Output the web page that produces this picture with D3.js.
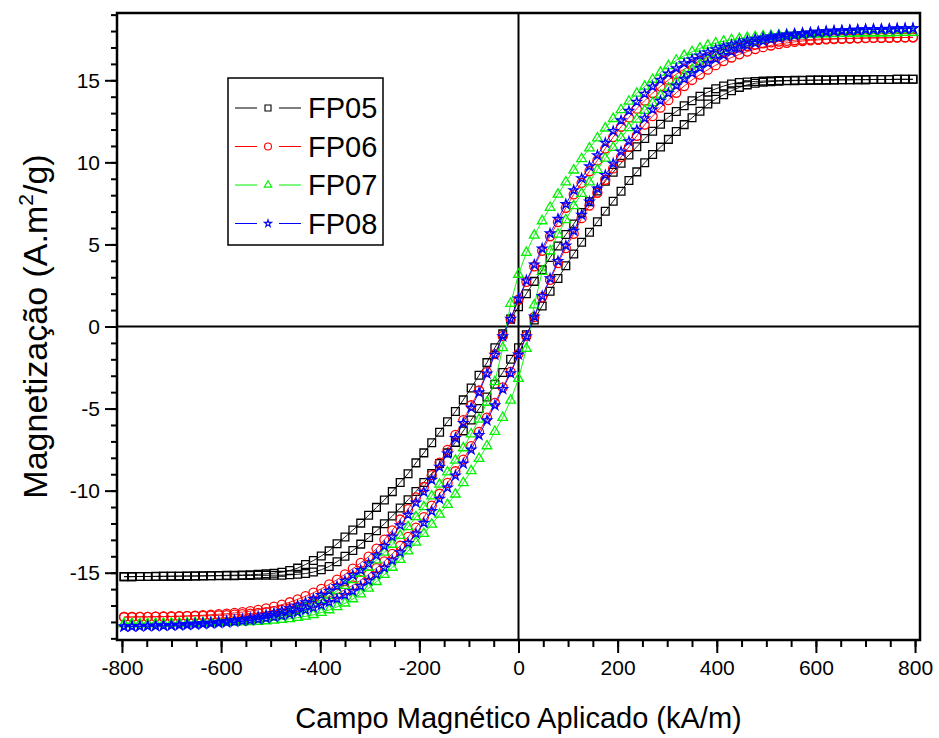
<!DOCTYPE html>
<html>
<head>
<meta charset="utf-8">
<script src="https://cdn.jsdelivr.net/npm/d3@7"></script>
<style>
  body { margin: 0; background: #fff; }
  svg { font-family: "Liberation Sans", Arial, sans-serif; }
</style>
</head>
<body>
<svg id="chart" width="939" height="738"></svg>
<script>
// applied field (kA/m), one point every 200 Oe
var fieldKAm = [-795.8,-779.9,-764.0,-748.1,-732.1,-716.2,-700.3,-684.4,-668.5,-652.5,-636.6,-620.7,-604.8,-588.9,-573.0,-557.0,-541.1,-525.2,-509.3,-493.4,-477.5,-461.5,-445.6,-429.7,-413.8,-397.9,-382.0,-366.1,-350.1,-334.2,-318.3,-302.4,-286.5,-270.6,-254.6,-238.7,-222.8,-206.9,-191.0,-175.1,-159.2,-143.2,-127.3,-111.4,-95.5,-79.6,-63.7,-47.7,-31.8,-15.9,0,15.9,31.8,47.7,63.7,79.6,95.5,111.4,127.3,143.2,159.2,175.1,191.0,206.9,222.8,238.7,254.6,270.6,286.5,302.4,318.3,334.2,350.1,366.1,382.0,397.9,413.8,429.7,445.6,461.5,477.5,493.4,509.3,525.2,541.1,557.0,573.0,588.9,604.8,620.7,636.6,652.5,668.5,684.4,700.3,716.2,732.1,748.1,764.0,779.9,795.8];

// magnetization (A.m2/g), listed in the same order as fieldKAm
// "down" = branch measured from +H to -H, "up" = branch from -H to +H
var fp05Down = [-15.24,-15.24,-15.23,-15.23,-15.22,-15.22,-15.21,-15.21,-15.2,-15.2,-15.19,-15.18,-15.17,-15.16,-15.15,-15.14,-15.12,-15.1,-15.07,-15.03,-14.97,-14.87,-14.72,-14.5,-14.26,-13.98,-13.67,-13.24,-12.83,-12.4,-11.98,-11.5,-11.02,-10.57,-10.06,-9.5,-8.97,-8.31,-7.7,-7.08,-6.44,-5.8,-5.18,-4.47,-3.75,-2.97,-2.2,-1.3,-0.45,0.45,
  1.2,2.0,2.75,3.45,4.2,4.9,5.6,6.25,6.95,7.6,8.25,8.85,9.4,9.95,10.45,10.95,11.45,11.9,12.32,12.75,13.1,13.45,13.75,14.03,14.28,14.48,14.65,14.78,14.86,14.9,14.93,14.95,14.97,14.98,14.99,15.0,15.0,15.01,15.01,15.02,15.02,15.03,15.03,15.04,15.04,15.05,15.05,15.05,15.06,15.06,15.06];
var fp05Up = [-15.24,-15.24,-15.23,-15.23,-15.23,-15.22,-15.22,-15.21,-15.21,-15.2,-15.2,-15.19,-15.19,-15.18,-15.18,-15.17,-15.17,-15.16,-15.16,-15.15,-15.15,-15.13,-15.1,-15.05,-14.96,-14.82,-14.62,-14.33,-14.0,-13.65,-13.26,-12.86,-12.45,-12.02,-11.55,-11.06,-10.56,-10.05,-9.5,-8.95,-8.35,-7.7,-7.06,-6.36,-5.7,-5.0,-4.3,-3.52,-2.8,-2.0,
  -1.3,-0.5,0.4,1.25,2.15,2.92,3.7,4.42,5.13,5.74,6.38,7.02,7.63,8.24,8.9,9.42,9.98,10.48,10.93,11.4,11.88,12.3,12.72,13.12,13.55,13.85,14.12,14.36,14.57,14.72,14.82,14.88,14.92,14.95,14.97,14.98,14.99,15.0,15.01,15.01,15.02,15.03,15.03,15.04,15.04,15.05,15.05,15.05,15.06,15.06,15.06];

var fp06Down = [-17.7,-17.7,-17.69,-17.69,-17.68,-17.67,-17.66,-17.65,-17.63,-17.61,-17.59,-17.56,-17.53,-17.5,-17.45,-17.4,-17.34,-17.26,-17.17,-17.07,-16.95,-16.8,-16.62,-16.43,-16.22,-15.98,-15.71,-15.42,-15.1,-14.75,-14.4,-14.02,-13.53,-12.98,-12.42,-11.76,-11.13,-10.41,-9.78,-9.06,-8.29,-7.52,-6.6,-5.7,-4.8,-3.9,-2.78,-1.68,-0.58,0.46,
  1.64,2.72,3.66,4.61,5.5,6.36,7.23,8.05,8.75,9.46,10.12,10.84,11.54,12.17,12.74,13.27,13.76,14.22,14.63,15.02,15.37,15.68,15.95,16.19,16.4,16.58,16.74,16.87,16.99,17.09,17.18,17.25,17.31,17.36,17.4,17.44,17.47,17.49,17.51,17.53,17.54,17.55,17.56,17.57,17.58,17.59,17.59,17.6,17.61,17.61,17.62];
var fp06Up = [-17.7,-17.7,-17.69,-17.69,-17.68,-17.68,-17.67,-17.66,-17.65,-17.64,-17.63,-17.62,-17.6,-17.58,-17.56,-17.53,-17.49,-17.45,-17.4,-17.34,-17.27,-17.18,-17.08,-16.96,-16.83,-16.67,-16.49,-16.28,-16.04,-15.77,-15.46,-15.11,-14.72,-14.31,-13.85,-13.36,-12.82,-12.25,-11.62,-10.92,-10.19,-9.53,-8.82,-8.11,-7.29,-6.42,-5.55,-4.66,-3.71,-2.77,
  -1.67,-0.58,0.58,1.79,2.84,3.86,4.78,5.65,6.6,7.37,8.15,8.94,9.63,10.33,10.94,11.62,12.3,12.82,13.34,13.79,14.24,14.65,15.02,15.35,15.65,15.92,16.17,16.39,16.58,16.75,16.9,17.02,17.12,17.21,17.28,17.34,17.39,17.43,17.46,17.49,17.51,17.53,17.54,17.56,17.57,17.58,17.59,17.59,17.6,17.61,17.62];

var fp07Down = [-18.12,-18.12,-18.11,-18.11,-18.1,-18.1,-18.09,-18.08,-18.07,-18.06,-18.05,-18.04,-18.02,-18.0,-17.97,-17.94,-17.9,-17.85,-17.78,-17.7,-17.6,-17.45,-17.27,-17.09,-16.89,-16.66,-16.4,-16.1,-15.78,-15.43,-15.05,-14.68,-14.23,-13.76,-13.28,-12.74,-12.21,-11.6,-10.99,-10.33,-9.62,-8.87,-8.16,-7.4,-6.55,-5.66,-4.63,-3.37,-1.3,1.4,
  3.17,4.5,5.55,6.43,7.25,8.05,8.8,9.52,10.22,10.87,11.48,12.08,12.66,13.2,13.72,14.2,14.63,15.05,15.48,15.88,16.22,16.5,16.74,16.95,17.13,17.27,17.38,17.47,17.54,17.6,17.65,17.69,17.72,17.75,17.77,17.79,17.81,17.82,17.83,17.84,17.85,17.86,17.87,17.87,17.88,17.88,17.89,17.89,17.9,17.9,17.9];
var fp07Up = [-18.12,-18.12,-18.12,-18.11,-18.11,-18.1,-18.1,-18.09,-18.09,-18.08,-18.07,-18.06,-18.05,-18.04,-18.03,-18.01,-17.99,-17.97,-17.94,-17.9,-17.86,-17.81,-17.74,-17.66,-17.56,-17.43,-17.27,-17.08,-16.86,-16.6,-16.3,-15.95,-15.55,-15.12,-14.68,-14.2,-13.68,-13.15,-12.62,-12.05,-11.45,-10.85,-10.22,-9.52,-8.8,-8.05,-7.28,-6.4,-5.55,-4.5,
  -3.18,-1.35,1.3,3.35,4.6,5.62,6.5,7.35,8.1,8.8,9.55,10.25,10.9,11.5,12.1,12.62,13.15,13.62,14.08,14.52,14.92,15.3,15.65,15.97,16.27,16.53,16.76,16.96,17.13,17.27,17.39,17.49,17.57,17.63,17.68,17.72,17.75,17.78,17.8,17.82,17.83,17.84,17.85,17.86,17.87,17.87,17.88,17.88,17.89,17.9,17.9];

var fp08Down = [-18.28,-18.27,-18.26,-18.24,-18.23,-18.21,-18.19,-18.17,-18.14,-18.11,-18.08,-18.04,-18.0,-17.95,-17.89,-17.83,-17.76,-17.67,-17.57,-17.46,-17.33,-17.18,-17.0,-16.81,-16.6,-16.37,-16.11,-15.82,-15.5,-15.15,-14.85,-14.45,-13.95,-13.38,-12.8,-12.12,-11.47,-10.73,-10.08,-9.34,-8.55,-7.75,-6.8,-5.88,-4.95,-4.02,-2.87,-1.73,-0.6,0.47,
  1.69,2.8,3.77,4.75,5.67,6.56,7.45,8.3,9.02,9.75,10.43,11.18,11.9,12.55,13.13,13.68,14.17,14.62,15.02,15.4,15.73,16.03,16.28,16.5,16.7,16.88,17.03,17.17,17.3,17.42,17.52,17.6,17.67,17.73,17.79,17.84,17.88,17.92,17.96,17.99,18.02,18.04,18.06,18.08,18.1,18.11,18.12,18.13,18.14,18.15,18.16];
var fp08Up = [-18.28,-18.28,-18.27,-18.26,-18.25,-18.24,-18.23,-18.21,-18.19,-18.17,-18.14,-18.11,-18.08,-18.04,-18.0,-17.95,-17.9,-17.84,-17.78,-17.7,-17.62,-17.52,-17.4,-17.27,-17.13,-16.98,-16.8,-16.6,-16.37,-16.12,-15.82,-15.48,-15.1,-14.7,-14.25,-13.76,-13.2,-12.62,-11.97,-11.25,-10.5,-9.82,-9.08,-8.36,-7.5,-6.62,-5.72,-4.8,-3.82,-2.85,
  -1.72,-0.6,0.6,1.85,2.93,3.98,4.93,5.82,6.8,7.6,8.4,9.22,9.93,10.65,11.28,11.98,12.68,13.22,13.75,14.22,14.68,15.08,15.43,15.75,16.04,16.3,16.53,16.74,16.93,17.11,17.26,17.38,17.49,17.58,17.67,17.74,17.8,17.85,17.9,17.94,17.98,18.01,18.03,18.06,18.08,18.1,18.11,18.12,18.14,18.15,18.16];

var seriesNames = ["FP05", "FP06", "FP07", "FP08"];
var xTickLabels = [-800, -600, -400, -200, 0, 200, 400, 600, 800];
var yTickLabels = [-15, -10, -5, 0, 5, 10, 15];

var styles = [
  {color: "#000000", symbol: d3.symbolSquare, size: 60},
  {color: "#ff0000", symbol: d3.symbolCircle, size: 64},
  {color: "#00f000", symbol: d3.symbolTriangle, size: 40},
  {color: "#0000ff", symbol: d3.symbolStar, size: 26}
];
var branches = [[fp05Down, fp05Up], [fp06Down, fp06Up], [fp07Down, fp07Up], [fp08Down, fp08Up]];

var svg = d3.select("#chart");
var plot = {left: 117, top: 13, right: 920, bottom: 640};

var x = d3.scaleLinear().domain([-810, 810]).range([plot.left, plot.right]);
var y = d3.scaleLinear().domain([-19.1, 19.1]).range([plot.bottom, plot.top]);
var plain = function(d) { return String(d); };   // keep the ascii hyphen as minus

// minor ticks first, then labelled major ticks
svg.append("g")
  .attr("transform", "translate(0," + plot.bottom + ")")
  .call(d3.axisBottom(x).tickValues(d3.range(-800, 801, 50)).tickSize(7).tickFormat(""))
  .call(function(g) { g.select(".domain").remove(); });
svg.append("g")
  .attr("class", "axis axis--x")
  .attr("transform", "translate(0," + plot.bottom + ")")
  .call(d3.axisBottom(x).tickValues(xTickLabels).tickSize(13).tickPadding(7).tickFormat(plain))
  .call(function(g) { g.select(".domain").remove(); });

svg.append("g")
  .attr("transform", "translate(" + plot.left + ",0)")
  .call(d3.axisLeft(y).tickValues(d3.range(-19, 20, 1)).tickSize(6).tickFormat(""))
  .call(function(g) { g.select(".domain").remove(); });
svg.append("g")
  .attr("class", "axis axis--y")
  .attr("transform", "translate(" + plot.left + ",0)")
  .call(d3.axisLeft(y).tickValues(yTickLabels).tickSize(12).tickPadding(5).tickFormat(plain))
  .call(function(g) { g.select(".domain").remove(); });

svg.selectAll(".tick line").attr("stroke", "#000").attr("stroke-width", 2);
svg.selectAll(".axis text").attr("fill", "#000").style("font-size", "21px")
  .style("font-family", "'Liberation Sans', Arial, sans-serif");

// zero lines
svg.append("line")
  .attr("x1", x(0)).attr("x2", x(0)).attr("y1", plot.top).attr("y2", plot.bottom)
  .attr("stroke", "#000").attr("stroke-width", 2);
svg.append("line")
  .attr("x1", plot.left).attr("x2", plot.right).attr("y1", y(0)).attr("y2", y(0))
  .attr("stroke", "#000").attr("stroke-width", 2);

// the loops
var line = d3.line().x(function(d) { return x(d[0]); }).y(function(d) { return y(d[1]); });

seriesNames.forEach(function(name, i) {
  var down = fieldKAm.map(function(h, k) { return [h, branches[i][0][k]]; }).reverse();
  var up = fieldKAm.map(function(h, k) { return [h, branches[i][1][k]]; });
  var pts = down.concat(up);
  var st = styles[i];
  var g = svg.append("g").attr("class", "series");

  g.append("path")
    .datum(pts)
    .attr("d", line)
    .attr("fill", "none")
    .attr("stroke", st.color)
    .attr("stroke-width", 0.9);

  g.selectAll("path.mark")
    .data(pts)
    .enter().append("path")
    .attr("class", "mark")
    .attr("d", d3.symbol().type(st.symbol).size(st.size))
    .attr("transform", function(d) { return "translate(" + x(d[0]) + "," + y(d[1]) + ")"; })
    .attr("fill", "none")
    .attr("stroke", st.color)
    .attr("stroke-width", 1.3);
});

// frame
svg.append("rect")
  .attr("x", plot.left).attr("y", plot.top)
  .attr("width", plot.right - plot.left).attr("height", plot.bottom - plot.top)
  .attr("fill", "none").attr("stroke", "#000").attr("stroke-width", 2.5);

// legend
var legend = svg.append("g").attr("transform", "translate(228,78)");
legend.append("rect")
  .attr("width", 155).attr("height", 167)
  .attr("fill", "#fff").attr("stroke", "#000").attr("stroke-width", 1.5);

seriesNames.forEach(function(name, i) {
  var st = styles[i];
  var row = legend.append("g").attr("transform", "translate(0," + (30 + i * 38.5) + ")");
  row.append("line").attr("x1", 7).attr("x2", 29).attr("stroke", st.color).attr("stroke-width", 1);
  row.append("line").attr("x1", 51).attr("x2", 73).attr("stroke", st.color).attr("stroke-width", 1);
  row.append("path")
    .attr("d", d3.symbol().type(st.symbol).size(st.size * 0.6))
    .attr("transform", "translate(40,0)")
    .attr("fill", "none").attr("stroke", st.color).attr("stroke-width", 1.1);
  row.append("text")
    .attr("x", 80).attr("y", 10)
    .style("font-size", "29px")
    .text(name);
});

// axis titles
svg.append("text")
  .attr("x", x(0)).attr("y", 728)
  .attr("text-anchor", "middle")
  .style("font-size", "29px")
  .text("Campo Magnético Aplicado (kA/m)");

var yTitle = svg.append("text")
  .attr("transform", "translate(47," + y(0) + ") rotate(-90)")
  .attr("text-anchor", "middle")
  .style("font-size", "34px");
yTitle.append("tspan").text("Magnetização (A.m");
yTitle.append("tspan").attr("dy", -14).style("font-size", "21px").text("2");
yTitle.append("tspan").attr("dy", 14).text("/g)");
</script>
</body>
</html>
